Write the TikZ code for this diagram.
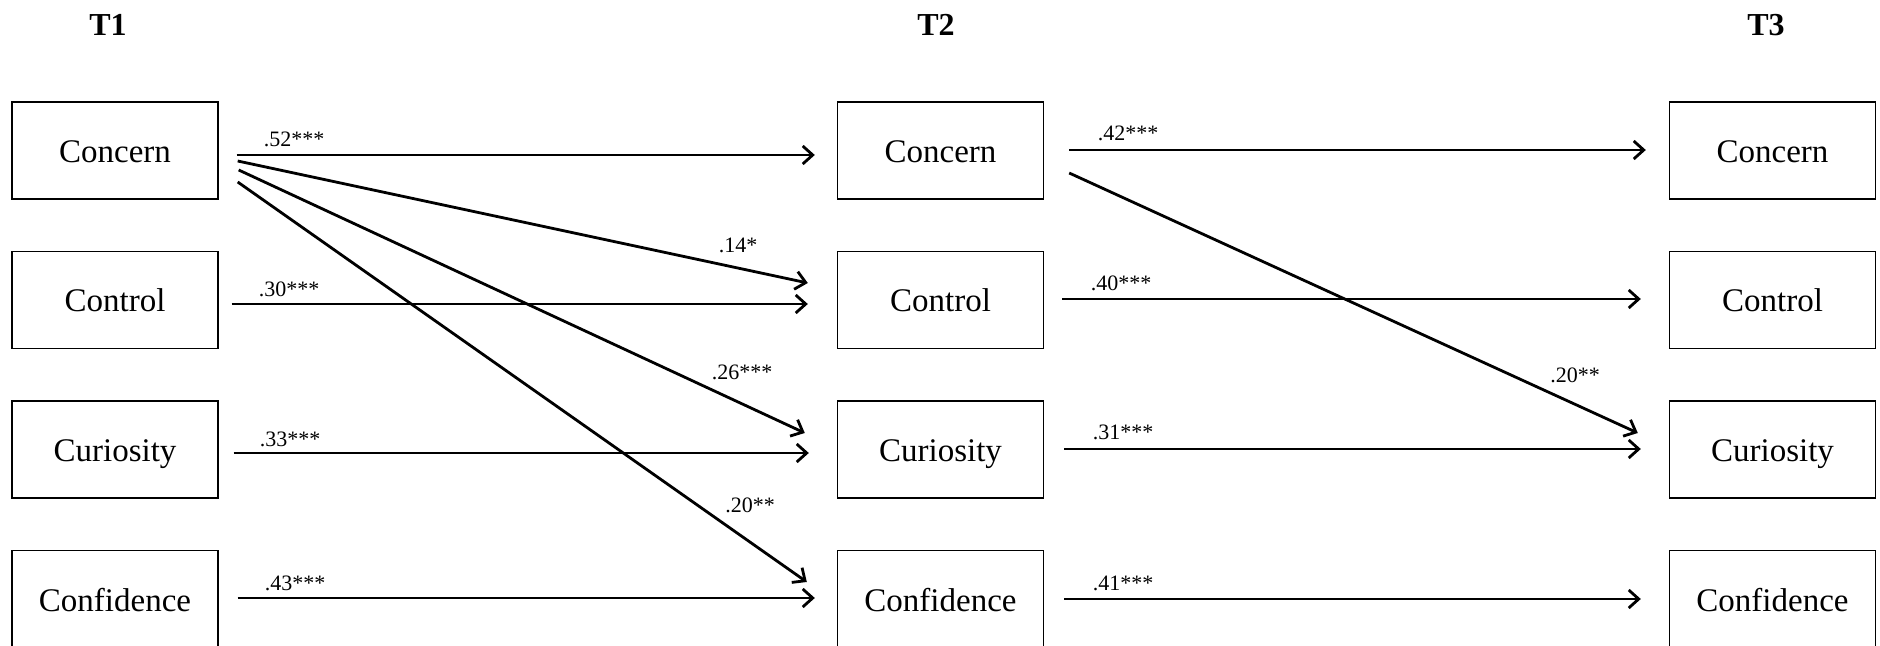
\documentclass[tikz,border=0pt]{standalone}
\usepackage{fontspec}
\setmainfont{Liberation Serif}
\usetikzlibrary{arrows.meta}
\begin{document}
\begin{tikzpicture}[x=0.5pt,y=-0.5pt,
  box/.style={draw,line width=0.7pt,minimum width=103pt,minimum height=48.5pt,inner sep=0pt,text height=15pt,text depth=3pt,font=\fontsize{16.5}{18}\selectfont},
  hdr/.style={font=\fontsize{16}{18}\selectfont\bfseries,inner sep=0pt},
  lab/.style={font=\fontsize{11}{12}\selectfont,inner sep=0pt},
  arr/.style={line width=1.4pt,-{Straight Barb[length=5pt,width=9pt,line width=1.4pt]}}
]
\useasboundingbox (0,0) rectangle (1880,646);
% headers
\node[hdr] (h1) at (108,25) {T1};
\node[hdr] (h2) at (936,25) {T2};
\node[hdr] (h3) at (1766,25) {T3};
% boxes
\node[box] (a1) at (115,150.5) {Concern};
\node[box] (a2) at (115,300) {Control};
\node[box] (a3) at (115,449.5) {Curiosity};
\node[box] (a4) at (115,599) {Confidence};
\node[box] (b1) at (940.5,150.5) {Concern};
\node[box] (b2) at (940.5,300) {Control};
\node[box] (b3) at (940.5,449.5) {Curiosity};
\node[box] (b4) at (940.5,599) {Confidence};
\node[box] (c1) at (1772.5,150.5) {Concern};
\node[box] (c2) at (1772.5,300) {Control};
\node[box] (c3) at (1772.5,449.5) {Curiosity};
\node[box] (c4) at (1772.5,599) {Confidence};
% arrows T1 -> T2
\draw[arr] ([shift={(18,4.5)}]a1.east) -- ([shift={(-22,4.5)}]b1.west);
\draw[arr] ([shift={(19,10.5)}]a1.east) -- ([shift={(-29,-17)}]b2.west);
\draw[arr] ([shift={(20,19.5)}]a1.east) -- ([shift={(-32,-16.5)}]b3.west);
\draw[arr] ([shift={(19,31.5)}]a1.east) -- ([shift={(-30,-17)}]b4.west);
\draw[arr] ([shift={(13,4)}]a2.east) -- ([shift={(-29,4)}]b2.west);
\draw[arr] ([shift={(15,3.5)}]a3.east) -- ([shift={(-28,3.5)}]b3.west);
\draw[arr] ([shift={(19,-1)}]a4.east) -- ([shift={(-22,-1)}]b4.west);
% arrows T2 -> T3
\draw[arr] ([shift={(25,-0.5)}]b1.east) -- ([shift={(-23,-0.5)}]c1.west);
\draw[arr] ([shift={(25,22.5)}]b1.east) -- ([shift={(-31,-16.5)}]c3.west);
\draw[arr] ([shift={(18,-1)}]b2.east) -- ([shift={(-28,-1)}]c2.west);
\draw[arr] ([shift={(20,-0.5)}]b3.east) -- ([shift={(-28,-0.5)}]c3.west);
\draw[arr] ([shift={(20,0)}]b4.east) -- ([shift={(-28,0)}]c4.west);
% labels
\node[lab] (l1) at (294,139) {.52***};
\node[lab] (l2) at (738,245) {.14*};
\node[lab] (l3) at (289,289) {.30***};
\node[lab] (l4) at (742,372) {.26***};
\node[lab] (l5) at (750,505) {.20**};
\node[lab] (l6) at (290,439) {.33***};
\node[lab] (l7) at (295,583) {.43***};
\node[lab] (l8) at (1128,133) {.42***};
\node[lab] (l9) at (1121,283) {.40***};
\node[lab] (l10) at (1575,375) {.20**};
\node[lab] (l11) at (1123,432) {.31***};
\node[lab] (l12) at (1123,583) {.41***};
\end{tikzpicture}
\end{document}
